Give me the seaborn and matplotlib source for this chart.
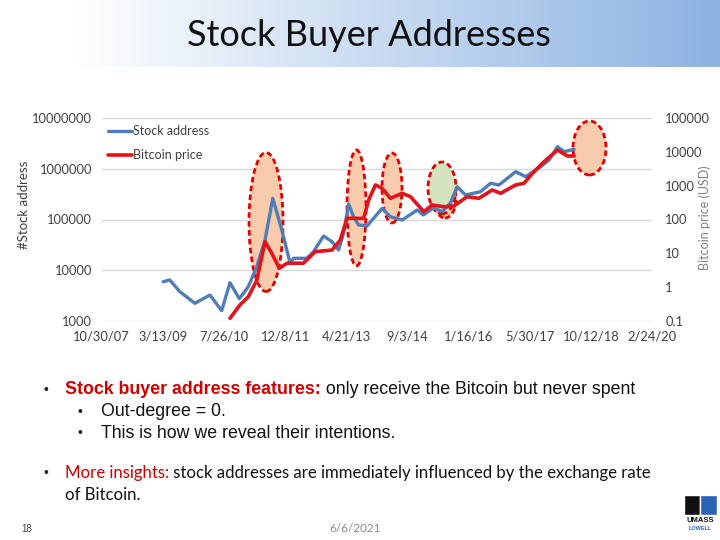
import numpy as np
import pandas as pd
import seaborn as sns
import matplotlib.pyplot as plt
from matplotlib.patches import Ellipse, Rectangle
from matplotlib.ticker import FixedLocator, FuncFormatter, NullLocator

# stock buyer addresses (left axis)
stock_dates = ["2009-03-15", "2009-05-09", "2009-07-30", "2009-11-30", "2010-04-02",
               "2010-07-07", "2010-09-13", "2010-11-28", "2011-02-10", "2011-04-20",
               "2011-06-27", "2011-08-29", "2011-11-11", "2012-01-18", "2012-02-14",
               "2012-06-03", "2012-07-27", "2012-10-17", "2012-12-25", "2013-02-17",
               "2013-03-30", "2013-05-10", "2013-06-20", "2013-07-31", "2013-10-08",
               "2014-02-08", "2014-04-17", "2014-07-22", "2014-11-22", "2015-01-12",
               "2015-04-04", "2015-06-14", "2015-08-21", "2015-10-15", "2015-12-22",
               "2016-04-23", "2016-07-14", "2016-09-20", "2017-02-04", "2017-04-27",
               "2017-08-28", "2017-11-04", "2018-01-12", "2018-03-07", "2018-05-28"]
stock_counts = [5940, 6430, 3780, 2230, 3250,
                1600, 5680, 2750, 4740, 11700,
                39400, 262000, 62000, 13700, 17200,
                17200, 23200, 47300, 36600, 25100,
                53500, 202000, 113000, 78000, 74500,
                166000, 113000, 97700, 154000, 123000,
                169000, 143000, 211000, 443000, 304000,
                353000, 517000, 478000, 875000, 697000,
                1096000, 1486000, 2717000, 2166000, 2415000]

# bitcoin price in USD (right axis)
price_dates = ["2010-09-13", "2010-12-04", "2011-02-10", "2011-04-20", "2011-06-27",
               "2011-08-21", "2011-10-22", "2011-12-22", "2012-05-05", "2012-08-10",
               "2012-12-25", "2013-03-03", "2013-04-27", "2013-09-10", "2013-10-21",
               "2013-12-15", "2014-02-08", "2014-04-17", "2014-07-22", "2014-09-28",
               "2015-01-15", "2015-03-24", "2015-06-28", "2015-09-18", "2016-01-05",
               "2016-04-09", "2016-07-28", "2016-10-04", "2017-02-04", "2017-04-13",
               "2017-07-04", "2017-09-24", "2018-01-12", "2018-04-04", "2018-05-28"]
price_usd = [0.12, 0.30, 0.52, 1.6, 22,
             10, 3.6, 5.1, 5.1, 11.2,
             12.5, 24.8, 108, 108, 377,
             1050, 836, 423, 594, 472,
             170, 268, 239, 250, 472,
             423, 745, 594, 1050, 1175,
             2590, 5100, 11300, 7530, 7530]

x_tick_dates = ["2007-10-30", "2009-03-13", "2010-07-26", "2011-12-08", "2013-04-21",
                "2014-09-03", "2016-01-16", "2017-05-30", "2018-10-12", "2020-02-24"]
x_tick_labels = ["10/30/07", "3/13/09", "7/26/10", "12/8/11", "4/21/13",
                 "9/3/14", "1/16/16", "5/30/17", "10/12/18", "2/24/20"]
left_ticks = [1e3, 1e4, 1e5, 1e6, 1e7]
right_ticks = [0.1, 1, 10, 100, 1000, 10000, 100000]

stock = pd.DataFrame({"date": pd.to_datetime(stock_dates), "count": stock_counts})
price = pd.DataFrame({"date": pd.to_datetime(price_dates), "usd": price_usd})

sns.set_theme(style="white")
plt.rcParams["font.family"] = ["Lato", "DejaVu Sans"]

W, H = 720, 540
fig = plt.figure(figsize=(7.2, 5.4), dpi=100)

# header band with gradient
hax = fig.add_axes([0, 1 - 67 / H, 1, 67 / H])
grad = np.linspace(0, 1, 256)
grad = np.clip((grad - 0.1) / 0.9, 0, 1)
start = np.array([1.0, 1.0, 1.0])
end = np.array([0x8D, 0xB3, 0xE2]) / 255
img = start[None, :] * (1 - grad[:, None]) + end[None, :] * grad[:, None]
hax.imshow(img[None, :, :], aspect="auto", extent=[0, 1, 0, 1])
hax.set_axis_off()
fig.text(0.513, 1 - 35 / H, "Stock Buyer Addresses", ha="center", va="center",
         fontsize=26, color="#111111")

# chart
ax = fig.add_axes([101.7 / W, (H - 321) / H, 550.3 / W, 203 / H])
ax2 = ax.twinx()

sns.lineplot(data=stock, x="date", y="count", ax=ax, color="#4F7EB7",
             linewidth=2.4, label="Stock address", zorder=3,
             solid_joinstyle="round", solid_capstyle="round")
sns.lineplot(data=price, x="date", y="usd", ax=ax2, color="#E3121B",
             linewidth=2.6, label="Bitcoin price", zorder=3,
             solid_joinstyle="round", solid_capstyle="round")
for a in (ax, ax2):
    if a.get_legend() is not None:
        a.get_legend().remove()

ax.set_yscale("log")
ax2.set_yscale("log")
ax.set_ylim(1e3, 1e7)
ax2.set_ylim(0.1, 1e5)
xd = pd.to_datetime(x_tick_dates)
ax.set_xlim(xd[0], xd[-1])

ax.xaxis.set_major_locator(FixedLocator([d for d in ax.convert_xunits(list(xd))]))
ax.set_xticklabels(x_tick_labels)
ax.yaxis.set_major_locator(FixedLocator(left_ticks))
ax.yaxis.set_minor_locator(NullLocator())
ax.yaxis.set_major_formatter(FuncFormatter(lambda v, p: f"{v:.0f}"))
ax2.yaxis.set_major_locator(FixedLocator(right_ticks))
ax2.yaxis.set_minor_locator(NullLocator())
ax2.yaxis.set_major_formatter(FuncFormatter(lambda v, p: f"{v:.0f}" if v >= 1 else f"{v:g}"))

ax.tick_params(axis="x", length=0, pad=7, labelsize=9.3, labelcolor="#404040")
ax.tick_params(axis="y", length=0, pad=7, labelsize=9.3, labelcolor="#404040")
ax2.tick_params(axis="y", length=0, pad=9.5, labelsize=9.3, labelcolor="#404040")
ax.grid(axis="y", color="#D9D9D9", linewidth=1)
for a in (ax, ax2):
    for s in a.spines.values():
        s.set_visible(False)
ax.set_xlabel("")
ax.set_ylabel("#Stock address", fontsize=9.5, color="#404040", labelpad=8)
ax.yaxis.set_label_coords(-71.7 / 550.3, 0.57)
ax2.set_ylabel("Bitcoin price (USD)", fontsize=9, color="#808080", labelpad=4)
ax2.yaxis.set_label_coords(597 / 550.3, 0.51)
ax2.patch.set_visible(False)

# highlighted periods (axes fraction)
peach = "#F8CBAD"
green = "#D6E3BF"
ells = [
    (0.2986, 0.4877, 0.0618, 0.6847, peach),
    (0.4630, 0.5567, 0.0345, 0.5714, peach),
    (0.5275, 0.6552, 0.0363, 0.3448, peach),
    (0.6238, 0.6010, 0.0400, 0.1870, peach),
    (0.6184, 0.6552, 0.0509, 0.2560, green),
    (0.8864, 0.8522, 0.0600, 0.2660, peach),
]
for cx, cy, w, h, fc in ells:
    ax.add_patch(Ellipse((cx, cy), w, h, transform=ax.transAxes, facecolor=fc,
                         edgecolor="#E00000", linestyle=(0, (2, 1.2)), linewidth=2,
                         zorder=1))

h1, l1 = ax.get_legend_handles_labels()
h2, l2 = ax2.get_legend_handles_labels()
ax2.legend(h1 + h2, l1 + l2, loc="upper left", bbox_to_anchor=(0.012, 0.965),
           frameon=False, fontsize=9, handlelength=1.9, handletextpad=0.1,
           labelspacing=0.95, borderpad=0, borderaxespad=0, labelcolor="#404040")

# body text
renderer = fig.canvas.get_renderer()


def put_runs(x_px, y_px, runs):
    x = x_px / W
    for text, color, weight, family, size in runs:
        t = fig.text(x, 1 - y_px / H, text, color=color, fontweight=weight,
                     family=family, fontsize=size, va="center")
        x = t.get_window_extent(renderer=renderer).x1 / W


arial = ["Liberation Sans", "DejaVu Sans"]
lato = ["Lato", "DejaVu Sans"]
red = "#D00000"
fs = 12.8
fig.text(44 / W, 1 - 390 / H, "•", fontsize=10, color="#202020", va="center", family=arial)
put_runs(65, 390, [("Stock buyer address features:", red, "bold", arial, fs),
                   (" only receive the Bitcoin but never spent", "#111111", "normal", arial, fs)])
fig.text(78 / W, 1 - 412 / H, "•", fontsize=10, color="#202020", va="center", family=arial)
put_runs(101, 412, [("Out-degree = 0.", "#111111", "normal", arial, fs)])
fig.text(78 / W, 1 - 433 / H, "•", fontsize=10, color="#202020", va="center", family=arial)
put_runs(101, 433, [("This is how we reveal their intentions.", "#111111", "normal", arial, fs)])
fig.text(44 / W, 1 - 473 / H, "•", fontsize=10, color="#202020", va="center", family=arial)
put_runs(65, 473, [("More insights:", red, "normal", lato, 12.1),
                   (" stock addresses are immediately influenced by the exchange rate",
                    "#111111", "normal", lato, 12.1)])
put_runs(65, 495, [("of Bitcoin.", "#111111", "normal", lato, 12.1)])

fig.text(21 / W, 1 - 529 / H, "18", fontsize=7, color="#404040", va="center", family=arial)
fig.text(355 / W, 1 - 529 / H, "6/6/2021", fontsize=8.5, color="#8C8C8C", va="center",
         ha="center", family=lato)

# small university mark
fig.patches.append(Rectangle((684 / W, 1 - 515 / H), 16 / W, 20 / H,
                             transform=fig.transFigure, facecolor="#111111"))
fig.patches.append(Rectangle((700 / W, 1 - 515 / H), 17 / W, 20 / H,
                             transform=fig.transFigure, facecolor="#2B63B5"))
fig.text(700 / W, 1 - 521 / H, "UMASS", fontsize=5.5, fontweight="bold", ha="center",
         va="center", color="#111111", family=arial)
fig.text(700 / W, 1 - 529 / H, "LOWELL", fontsize=4, fontweight="bold", ha="center",
         va="center", color="#2B63B5", family=arial)

fig.savefig("out.png", dpi=100)
